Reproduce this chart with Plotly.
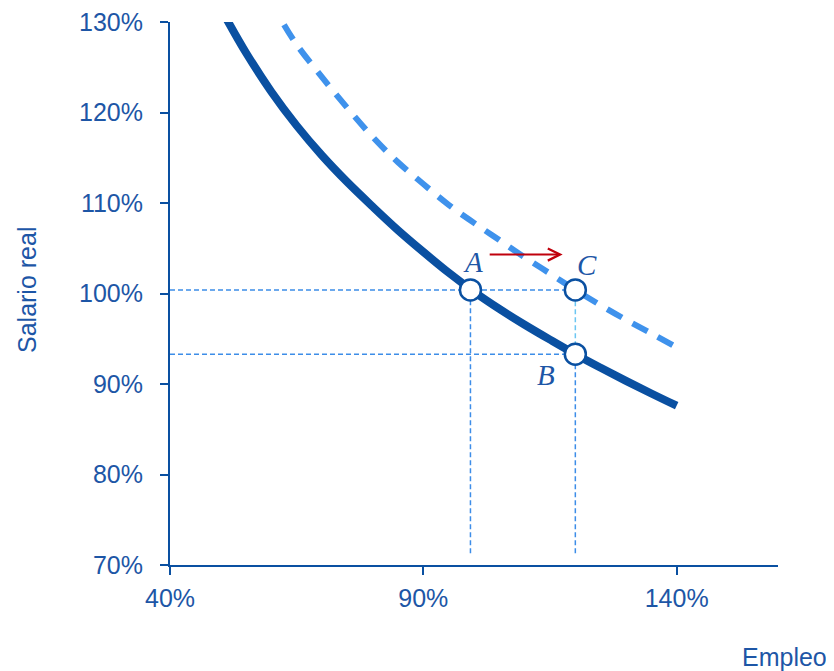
import plotly.graph_objects as go

# Data
empleo_solid = [51.0, 55, 60, 65, 70, 75, 80, 85, 90, 95, 100, 105, 110, 115, 120, 125, 130, 135, 140]
salario_solid = [130.5, 126.6, 122.3, 118.55, 115.25, 112.3, 109.6, 107.0, 104.6, 102.3, 100.2,
                 98.3, 96.55, 94.9, 93.3, 91.8, 90.35, 88.95, 87.6]

empleo_dashed = [62.5, 65, 70, 75, 80, 85, 90, 95, 100, 105, 110, 115, 120, 125, 130, 135, 139.5]
salario_dashed = [129.7, 127.5, 123.9, 120.5, 117.3, 114.5, 112.1, 109.8, 107.8, 105.9, 104.0,
                  102.2, 100.4, 98.7, 97.1, 95.6, 94.2]

point_names = ["A", "B", "C"]
point_x = [99.3, 120.0, 120.0]
point_y = [100.4, 93.3, 100.4]
label_x = [99.75, 114.3, 122.4]
label_y = [103.5, 91.0, 103.2]

arrow_from = (102.8, 104.3)
arrow_to = (117.5, 104.3)

x_range = [40, 160]
y_range = [70, 130]
x_ticks = [40, 90, 140]
y_ticks = [70, 80, 90, 100, 110, 120, 130]
guide_bottom = 71.3

DARK = "#0a50a1"
LIGHT = "#3f92ec"
GUIDE = "#3d8de8"
GUIDE_LIGHT = "#6cc6f2"
TEXT = "#1d56a6"

# plot area in window pixels (reference): left 169, right 777, top 22, bottom 565
OFF_X, OFF_Y = 7, 8
PW, PH = 608, 543

fig = go.Figure()

guide = dict(width=1.5, dash="5px,3px")
fig.add_trace(go.Scatter(x=[x_range[0], point_x[2]], y=[point_y[0], point_y[2]], mode="lines",
                         line=dict(color=GUIDE, **guide), hoverinfo="skip", showlegend=False))
fig.add_trace(go.Scatter(x=[x_range[0], point_x[1]], y=[point_y[1], point_y[1]], mode="lines",
                         line=dict(color=GUIDE, **guide), hoverinfo="skip", showlegend=False))
fig.add_trace(go.Scatter(x=[point_x[0], point_x[0]], y=[guide_bottom, point_y[0]], mode="lines",
                         line=dict(color=GUIDE, **guide), hoverinfo="skip", showlegend=False))
fig.add_trace(go.Scatter(x=[point_x[1], point_x[1]], y=[guide_bottom, point_y[1]], mode="lines",
                         line=dict(color=GUIDE, **guide), hoverinfo="skip", showlegend=False))
fig.add_trace(go.Scatter(x=[point_x[1], point_x[2]], y=[point_y[1], point_y[2]], mode="lines",
                         line=dict(color=GUIDE_LIGHT, **guide), hoverinfo="skip", showlegend=False))

fig.add_trace(go.Scatter(x=empleo_dashed, y=salario_dashed, mode="lines", line_shape="spline",
                         line=dict(color=LIGHT, width=6, dash="17px,12px"), showlegend=False))
fig.add_trace(go.Scatter(x=empleo_solid, y=salario_solid, mode="lines", line_shape="spline",
                         line=dict(color=DARK, width=8), showlegend=False))

fig.add_trace(go.Scatter(x=point_x, y=point_y, mode="markers",
                         marker=dict(size=21, color="white", line=dict(color=DARK, width=2.5)),
                         showlegend=False))

for name, lx, ly in zip(point_names, label_x, label_y):
    fig.add_annotation(x=lx, y=ly, text=f"<i>{name}</i>", showarrow=False,
                       font=dict(family="Liberation Serif", size=29, color=TEXT))

fig.add_annotation(x=arrow_to[0], y=arrow_to[1], ax=arrow_from[0], ay=arrow_from[1],
                   xref="x", yref="y", axref="x", ayref="y", text="", showarrow=True,
                   arrowhead=5, arrowsize=1.2, arrowwidth=2, arrowcolor="#c0000c")

fig.add_annotation(x=1.0 + 51/PW, y=-92/PH, xref="paper", yref="paper", text="Empleo",
                   showarrow=False, xanchor="right", yanchor="middle",
                   font=dict(size=25, color=TEXT))
fig.add_annotation(x=-143/PW, y=(565-290)/PH, xref="paper", yref="paper", text="Salario real",
                   showarrow=False, textangle=-90, xanchor="center", yanchor="middle",
                   font=dict(size=25, color=TEXT))

ml = 169 - OFF_X
mt = 22 - OFF_Y
fig.update_layout(
    width=834, height=671,
    margin=dict(l=ml, r=834 - ml - PW, t=mt, b=671 - mt - PH, autoexpand=False),
    plot_bgcolor="white", paper_bgcolor="white",
    font=dict(family="Liberation Sans, Arial, sans-serif", size=25, color=TEXT),
    xaxis=dict(range=x_range, tickvals=x_ticks, ticktext=[f"{v}%" for v in x_ticks],
               showgrid=False, zeroline=False, showline=True, linecolor=DARK, linewidth=2,
               ticks="outside", ticklen=8, tickcolor=DARK, tickwidth=1.5, ticklabelstandoff=2,
               ticklabeloverflow="allow", automargin=False),
    yaxis=dict(range=y_range, tickvals=y_ticks, ticktext=[f"{v}%" for v in y_ticks],
               showgrid=False, zeroline=False, showline=True, linecolor=DARK, linewidth=2,
               ticks="outside", ticklen=8, tickcolor=DARK, tickwidth=1.5, ticklabelstandoff=12,
               ticklabeloverflow="allow", automargin=False),
)

fig.write_html("out.html")
